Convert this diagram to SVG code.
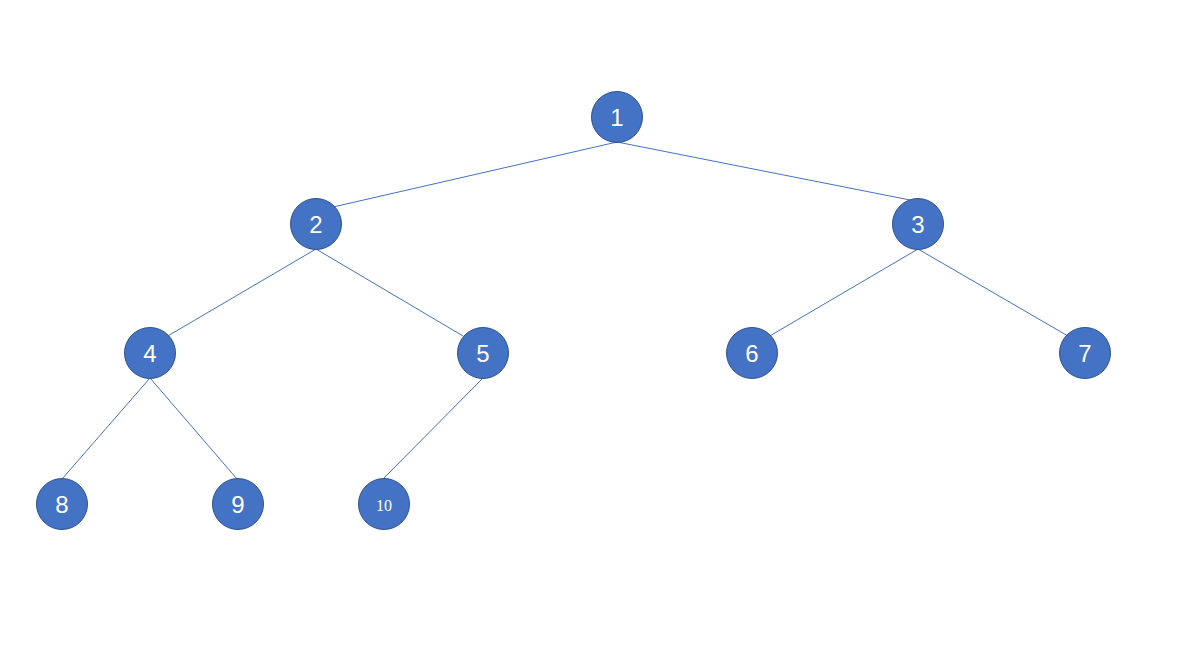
<svg xmlns="http://www.w3.org/2000/svg" width="1193" height="666" viewBox="0 0 1193 666">
<style>
.n circle{fill:#4472C4;stroke:#2F528F;stroke-width:1}
.n text{fill:#fff;font-family:"Liberation Sans",Arial,sans-serif;font-size:24px;text-anchor:middle;dominant-baseline:central}
.n text.s{font-family:"Liberation Serif","Times New Roman",serif;font-size:16px}
.e line{stroke:#4472C4;stroke-width:1}
</style>
<rect width="1193" height="666" fill="#fff"/>
<g id="connectors" class="e">
<line x1="617" y1="142" x2="333" y2="207"/>
<line x1="617" y1="142" x2="910" y2="200"/>
<line x1="316" y1="249" x2="166" y2="337"/>
<line x1="316" y1="249" x2="463" y2="336"/>
<line x1="918" y1="249" x2="768" y2="337"/>
<line x1="918" y1="249" x2="1068" y2="336"/>
<line x1="150" y1="378" x2="62" y2="479"/>
<line x1="150" y1="378" x2="237" y2="479"/>
<line x1="483" y1="378" x2="383" y2="479"/>
</g>
<g id="n1" class="n"><circle cx="617" cy="117" r="25.5"/><text x="617" y="117">1</text></g>
<g id="n2" class="n"><circle cx="316" cy="224" r="25.5"/><text x="316" y="224">2</text></g>
<g id="n3" class="n"><circle cx="918" cy="224" r="25.5"/><text x="918" y="224">3</text></g>
<g id="n4" class="n"><circle cx="150" cy="353" r="25.5"/><text x="150" y="353">4</text></g>
<g id="n5" class="n"><circle cx="483" cy="353" r="25.5"/><text x="483" y="353">5</text></g>
<g id="n6" class="n"><circle cx="752" cy="353" r="25.5"/><text x="752" y="353">6</text></g>
<g id="n7" class="n"><circle cx="1085" cy="353" r="25.5"/><text x="1085" y="353">7</text></g>
<g id="n8" class="n"><circle cx="62" cy="504" r="25.5"/><text x="62" y="504">8</text></g>
<g id="n9" class="n"><circle cx="238" cy="504" r="25.5"/><text x="238" y="504">9</text></g>
<g id="n10" class="n"><circle cx="384" cy="504" r="25.5"/><text class="s" x="384" y="505">10</text></g>
</svg>
